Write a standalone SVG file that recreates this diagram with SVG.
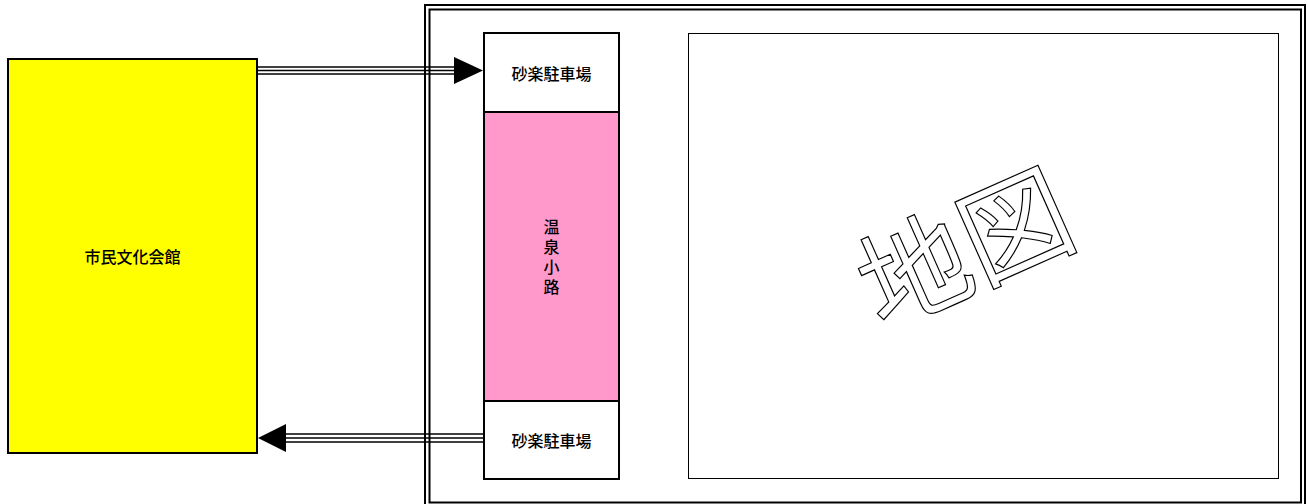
<svg xmlns="http://www.w3.org/2000/svg" width="1308" height="504" viewBox="0 0 1308 504">
<style>
.t{font-family:"Noto Sans CJK JP","Noto Sans CJK SC",sans-serif;font-size:16px;font-weight:500;fill:#000;text-anchor:middle;dominant-baseline:central}
.v{font-family:"Noto Sans CJK JP","Noto Sans CJK SC",sans-serif;font-size:16px;font-weight:500;fill:#000;text-anchor:middle;writing-mode:vertical-rl;letter-spacing:4px}
.box{stroke:#000;stroke-width:2}
.dl{stroke:#000;stroke-width:2;fill:none}
</style>
<rect width="1308" height="504" fill="#fff"/>
<g id="frame">
<rect x="425" y="5" width="880" height="502" class="dl"/>
<rect x="429.5" y="9.5" width="871.5" height="493" class="dl" stroke-width="1.5"/>
</g>
<g id="kaikan">
<rect x="8" y="59" width="249" height="394" fill="#ffff00" class="box"/>
<text x="132.5" y="256" class="t">市民文化会館</text>
</g>
<g id="parking-top">
<rect x="484" y="33" width="135" height="79" fill="#fff" class="box"/>
<text x="551.5" y="73" class="t">砂楽駐車場</text>
</g>
<g id="onsen">
<rect x="484" y="112" width="135" height="289" fill="#ff99cc" class="box"/>
<text x="551.5" y="259" class="v">温泉小路</text>
</g>
<g id="parking-bottom">
<rect x="484" y="401" width="135" height="78" fill="#fff" class="box"/>
<text x="551.5" y="440" class="t">砂楽駐車場</text>
</g>
<g id="map">
<rect x="688.5" y="33.5" width="590" height="445" fill="#fff" stroke="#000" stroke-width="1"/>
<text x="962" y="242" transform="rotate(-24 962 242)" font-family="'Noto Sans CJK JP','Noto Sans CJK SC',sans-serif" font-size="110" fill="#fff" stroke="#000" stroke-width="1.2" text-anchor="middle" dominant-baseline="central">地図</text>
</g>
<g id="connectors">
<g>
<line x1="258" y1="67" x2="456" y2="67" stroke="#000" stroke-width="1.5"/>
<line x1="258" y1="70.5" x2="456" y2="70.5" stroke="#000" stroke-width="1.5"/>
<line x1="258" y1="74" x2="456" y2="74" stroke="#000" stroke-width="1.5"/>
<path d="M454,57 L483,70.5 L454,84 Z" fill="#000"/>
</g>
<g>
<line x1="484" y1="434" x2="284" y2="434" stroke="#000" stroke-width="1.5"/>
<line x1="484" y1="438" x2="284" y2="438" stroke="#000" stroke-width="1.5"/>
<line x1="484" y1="442" x2="284" y2="442" stroke="#000" stroke-width="1.5"/>
<path d="M286,424 L258,438 L286,452 Z" fill="#000"/>
</g>
</g>
</svg>
